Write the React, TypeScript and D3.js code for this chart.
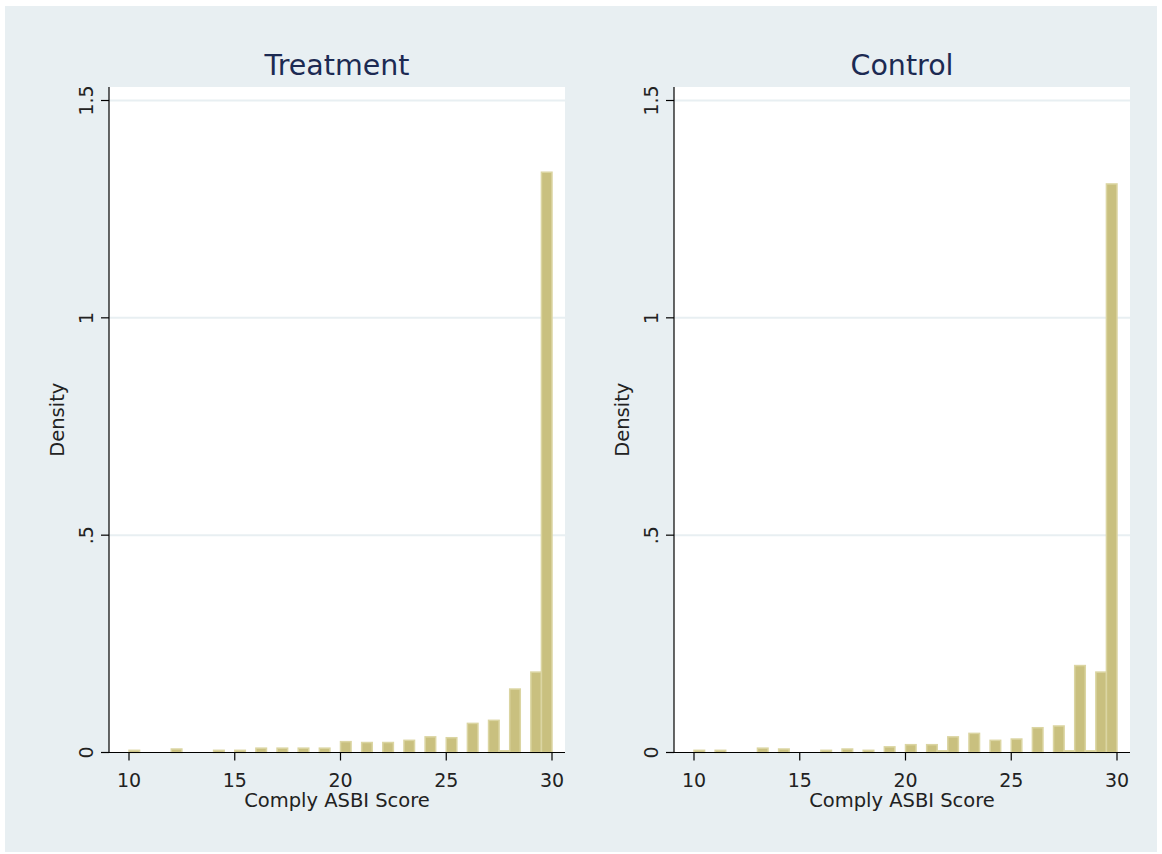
import React from 'react';
import * as d3 from 'd3';

// bin lower edges (bin width 0.5) and densities
const treatmentBins = [10, 12, 14, 15, 16, 17, 18, 19, 20, 21, 22, 23, 24, 25, 26, 27, 27.5, 28, 29, 29.5];
const treatmentDensity = [0.005, 0.008, 0.005, 0.005, 0.01, 0.01, 0.01, 0.01, 0.025, 0.023, 0.023, 0.028, 0.036, 0.034, 0.067, 0.074, 0.004, 0.146, 0.185, 1.335];

const controlBins = [10, 11, 13, 14, 16, 17, 18, 19, 20, 21, 21.5, 22, 23, 24, 25, 26, 27, 27.5, 28, 28.5, 29, 29.5];
const controlDensity = [0.005, 0.005, 0.01, 0.008, 0.005, 0.008, 0.005, 0.013, 0.018, 0.018, 0.004, 0.036, 0.044, 0.028, 0.031, 0.057, 0.061, 0.004, 0.2, 0.004, 0.185, 1.308];

const binWidth = 0.5;
const xTicks = [10, 15, 20, 25, 30];
const yTicks = [0, 0.5, 1, 1.5];
const yTickLabels = ['0', '.5', '1', '1.5'];

const W = 1162;
const H = 854;
const bg = '#e8eff2';
const font = '"DejaVu Sans", sans-serif';

function Panel({ title, bins, dens, left }) {
  const plotL = left;
  const plotR = left + 456;
  const plotT = 87;
  const plotB = 752.5;

  const x = d3.scaleLinear().domain([10, 30]).range([left + 20, left + 443]);
  const y = d3.scaleLinear().domain([0, 1.5]).range([plotB, 100.5]);
  const data = bins.map((b, i) => ({ b, d: dens[i] }));

  return (
    <g>
      <rect x={plotL} y={plotT} width={plotR - plotL} height={plotB - plotT} fill="#fff" />
      {yTicks.filter(t => t > 0).map(t => (
        <line key={t} x1={plotL} x2={plotR} y1={y(t)} y2={y(t)} stroke={bg} strokeWidth={2} />
      ))}
      {data.map((r, i) => (
        <rect
          key={i}
          x={x(r.b)}
          y={y(r.d)}
          width={x(r.b + binWidth) - x(r.b)}
          height={y(0) - y(r.d)}
          fill="#c9c07f"
          stroke="#dbd5a2"
          strokeWidth={1.5}
        />
      ))}
      <line x1={plotL} x2={plotL} y1={plotT} y2={plotB} stroke="#000" strokeWidth={1.2} />
      <line x1={plotL} x2={plotR} y1={plotB} y2={plotB} stroke="#000" strokeWidth={1.2} />
      {yTicks.map((t, i) => (
        <g key={t}>
          <line x1={plotL - 8} x2={plotL} y1={y(t)} y2={y(t)} stroke="#000" strokeWidth={1.2} />
          <text
            transform={`translate(${plotL - 16},${y(t)}) rotate(-90)`}
            textAnchor="middle"
            fontSize={19}
            fill="#222"
            fontFamily={font}
          >
            {yTickLabels[i]}
          </text>
        </g>
      ))}
      {xTicks.map(t => (
        <g key={t}>
          <line x1={x(t)} x2={x(t)} y1={plotB} y2={plotB + 8} stroke="#000" strokeWidth={1.2} />
          <text x={x(t)} y={787} textAnchor="middle" fontSize={19} fill="#222" fontFamily={font}>
            {t}
          </text>
        </g>
      ))}
      <text x={(plotL + plotR) / 2} y={806.5} textAnchor="middle" fontSize={19.5} fill="#222" fontFamily={font}>
        Comply ASBI Score
      </text>
      <text
        transform={`translate(${plotL - 45},${(plotT + plotB) / 2}) rotate(-90)`}
        textAnchor="middle"
        fontSize={19.5}
        fill="#222"
        fontFamily={font}
      >
        Density
      </text>
      <text
        x={(plotL + plotR) / 2}
        y={74.5}
        textAnchor="middle"
        fontSize={28.5}
        fill="#1c2a52"
        fontFamily={font}
      >
        {title}
      </text>
    </g>
  );
}

export default function App() {
  return (
    <svg
      width={W}
      height={H}
      style={{ position: 'absolute', left: 0, top: 0, display: 'block' }}
    >
      <rect x={0} y={0} width={W} height={H} fill="#fff" />
      <rect x={5} y={6} width={W - 10} height={H - 8} fill={bg} />
      <Panel title="Treatment" bins={treatmentBins} dens={treatmentDensity} left={109} />
      <Panel title="Control" bins={controlBins} dens={controlDensity} left={674} />
    </svg>
  );
}
